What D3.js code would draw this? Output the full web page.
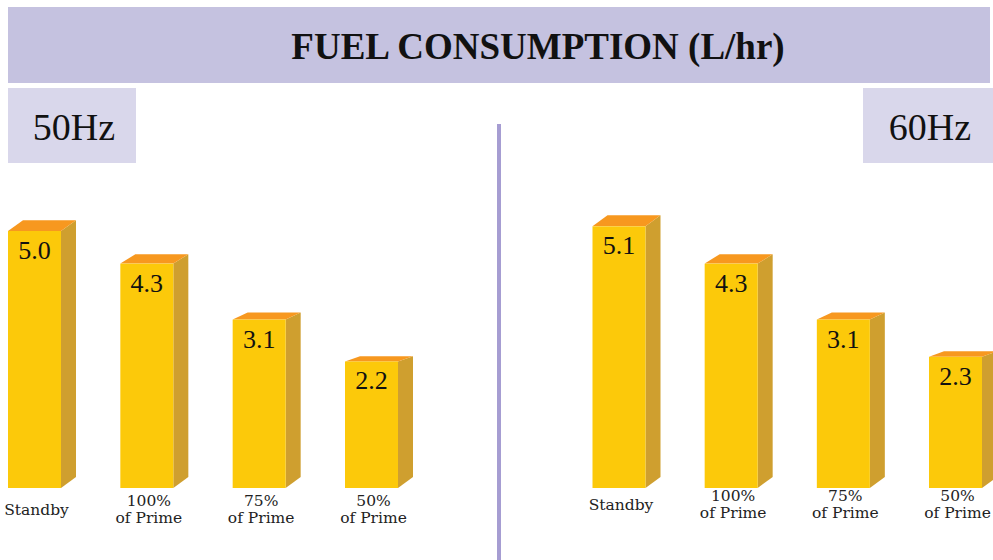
<!DOCTYPE html>
<html>
<head>
<meta charset="utf-8">
<script src="https://cdn.jsdelivr.net/npm/d3@7"></script>
<style>
  body { margin: 0; background: #fff; }
  svg { display: block; font-family: "Liberation Serif", "DejaVu Serif", serif; }
</style>
</head>
<body>
<div id="chart"></div>
<script>
// data
const title = "FUEL CONSUMPTION (L/hr)";
const categories = ["Standby", "100% of Prime", "75% of Prime", "50% of Prime"];
const categoryLines = [["Standby"], ["100%", "of Prime"], ["75%", "of Prime"], ["50%", "of Prime"]];
const panels = ["50Hz", "60Hz"];
const values50 = [5.0, 4.3, 3.1, 2.2];
const values60 = [5.1, 4.3, 3.1, 2.3];

const width = 993, height = 560;
const baseline = 488;
const barW = 53, dx = 15, dyBottom = 11;

const svg = d3.select("#chart").append("svg")
    .attr("width", width)
    .attr("height", height);

// title banner
svg.append("rect")
    .attr("x", 8).attr("y", 7).attr("width", 982).attr("height", 76)
    .attr("fill", "#c5c2e0");
svg.append("text")
    .attr("x", 538).attr("y", 59)
    .attr("text-anchor", "middle")
    .attr("font-size", 37).attr("font-weight", "bold")
    .attr("fill", "#111")
    .text(title);

// divider
svg.append("rect")
    .attr("x", 497).attr("y", 124).attr("width", 4).attr("height", 436)
    .attr("fill", "#a69dd2");

const y = d3.scaleLinear().domain([0, 5]).range([24, 257]); // bar height in px

const panelCfg = [
    {name: panels[0], values: values50, range: [34.5, 371.5], box: [8, 128], labelY: 515},
    {name: panels[1], values: values60, range: [619, 955.5], box: [863, 130], labelY: 510}
];

panelCfg.forEach(p => {
    const x = d3.scalePoint().domain(categories).range(p.range);

    svg.append("rect")
        .attr("x", p.box[0]).attr("y", 88).attr("width", p.box[1]).attr("height", 75)
        .attr("fill", "#d9d7eb");
    svg.append("text")
        .attr("x", p.box[0] + p.box[1] / 2 + 2).attr("y", 140)
        .attr("text-anchor", "middle")
        .attr("font-size", 38)
        .attr("fill", "#111")
        .text(p.name);

    const data = categories.map((c, i) => ({cat: c, lines: categoryLines[i], value: p.values[i]}));
    const g = svg.append("g");

    const bars = g.selectAll("g.bar")
        .data(data)
        .enter()
        .append("g")
        .attr("class", "bar");

    bars.each(function(d) {
        const h = y(d.value);
        const x0 = x(d.cat) - barW / 2, x1 = x0 + barW;
        const yt = baseline - h;
        const dyTop = 0.042 * h;
        const sel = d3.select(this);

        // side
        sel.append("polygon")
            .attr("points", [[x1, baseline], [x1 + dx, baseline - dyBottom], [x1 + dx, yt - dyTop], [x1, yt]].join(" "))
            .attr("fill", "#cf9f2f");
        // top
        sel.append("polygon")
            .attr("points", [[x0, yt], [x0 + dx, yt - dyTop], [x1 + dx, yt - dyTop], [x1, yt]].join(" "))
            .attr("fill", "#f7981f");
        // front
        sel.append("rect")
            .attr("x", x0).attr("y", yt).attr("width", barW).attr("height", h)
            .attr("fill", "#fcc90a");
        // value
        sel.append("text")
            .attr("x", x(d.cat)).attr("y", yt + 28)
            .attr("text-anchor", "middle")
            .attr("font-size", 26)
            .attr("fill", "#111")
            .text(d.value.toFixed(1));
        // category label
        const lbl = sel.append("text")
            .attr("text-anchor", "middle")
            .attr("font-family", "DejaVu Serif")
            .attr("font-size", 15.5)
            .attr("fill", "#222");
        const y0 = d.lines.length === 1 ? p.labelY : p.labelY - 9;
        d.lines.forEach((ln, k) => {
            lbl.append("tspan")
                .attr("x", x(d.cat) + 2)
                .attr("y", y0 + k * 17)
                .text(ln);
        });
    });
});
</script>
</body>
</html>
